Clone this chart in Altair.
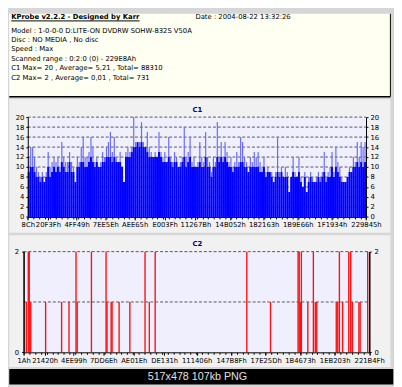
import json
import altair as alt
import pandas as pd

# ---------------- data ----------------
title_text = "KProbe v2.2.2 - Designed by Karr"
date_text = "Date : 2004-08-22 13:32:26"
info_lines = [
    "Model : 1-0-0-0 D:LITE-ON DVDRW SOHW-832S  V50A",
    "Disc : NO MEDIA , No disc",
    "Speed : Max",
    "Scanned range : 0:2:0 (0) - 229E8Ah",
    "C1 Max= 20 , Average= 5,21 , Total= 88310",
    "C2 Max= 2 , Average= 0,01 , Total= 731",
]
c1_title = "C1"
c2_title = "C2"
footer_text = "517x478 107kb PNG"

c1_xlabels = ["8Ch", "20F3Fh", "4FF49h", "7EE5Eh", "AEE65h", "E003Fh",
              "11267Bh", "14B052h", "182163h", "1B9E66h", "1F1934h", "229845h"]
c1_yticks = [0, 2, 4, 6, 8, 10, 12, 14, 16, 18, 20]
# per-sample maximum (light spikes)
c1_peak = [
    12, 14, 14, 12, 10, 9, 8, 9, 7, 9,
    13, 10, 11, 12, 11, 12, 10, 15, 12, 11,
    11, 13, 11, 10, 7, 12, 11, 14, 16, 12,
    12, 13, 16, 14, 11, 12, 10, 11, 13, 12,
    14, 15, 17, 13, 16, 12, 11, 13, 10, 7,
    13, 14, 13, 14, 20, 15, 14, 15, 19, 15,
    14, 17, 14, 13, 12, 13, 12, 17, 13, 12,
    13, 11, 16, 12, 11, 13, 12, 10, 11, 12,
    18, 12, 13, 16, 11, 12, 10, 11,
    15, 12, 11, 17, 12, 11, 9, 12, 11, 19,
    12, 15, 12, 15, 13, 11, 12, 10, 11, 13,
    11, 16, 15, 12, 11, 9, 12, 11, 13, 12,
    13, 11, 10, 12, 9, 10, 9, 9, 7, 9,
    16, 9, 10, 8, 10, 9, 5, 8, 12, 9,
    8, 12, 8, 6, 9, 5, 8, 9, 8, 7,
    8, 9, 8, 9, 13, 8, 9, 10, 13, 9,
    14, 11, 10, 8, 7, 7, 8, 10, 9, 12,
    11, 15, 12, 15, 14, 15,
]
# per-sample solid level
c1_base = [
    9, 10, 10, 9, 8, 8, 7, 8, 7, 8,
    10, 8, 9, 10, 9, 10, 9, 11, 10, 9,
    9, 11, 9, 9, 7, 10, 10, 11, 11, 10,
    10, 11, 12, 11, 10, 11, 10, 10, 11, 11,
    12, 12, 12, 11, 12, 11, 11, 11, 10, 7,
    12, 12, 12, 13, 14, 14, 15, 14, 15, 14,
    14, 13, 12, 12, 12, 12, 12, 13, 12, 11,
    11, 11, 12, 11, 10, 11, 11, 10, 10, 11,
    12, 10, 11, 12, 10, 10, 10, 10,
    11, 10, 10, 12, 10, 10, 8, 10, 10, 12,
    11, 12, 11, 12, 11, 10, 10, 9, 10, 10,
    10, 11, 11, 10, 10, 9, 10, 10, 10, 10,
    10, 9, 9, 10, 8, 9, 9, 8, 7, 8,
    9, 8, 9, 8, 8, 8, 5, 8, 9, 8,
    8, 9, 7, 6, 8, 5, 7, 8, 7, 7,
    7, 8, 7, 8, 9, 7, 8, 8, 10, 8,
    10, 9, 8, 7, 7, 7, 8, 9, 9, 10,
    10, 11, 10, 11, 10, 11,
]

c2_xlabels = ["1Ah", "21420h", "4EE99h", "7DD6Eh", "AE01Eh", "DE131h",
              "111406h", "147B8Fh", "17E25Dh", "1B4673h", "1EB203h", "221B4Fh"]
c2_yticks = [0, 1, 2]
c2_lba = [17700, 30300, 36600, 46000, 142500, 245800, 293700, 339100, 346700,
          438700, 533300, 539600, 566000, 572300, 617700, 687100, 785400,
          813100, 850900, 1443400, 1596600, 1775000, 1782500, 1790100,
          1796400, 1838000, 1873900, 1886500, 1896000, 2022000, 2031500,
          2042200, 2063000, 2102700, 2115300, 2126000, 2168300, 2176500,
          2225000]
c2_val = [1, 2, 2, 1, 1, 1, 1, 2, 1,
          2, 2, 1, 1, 1, 1, 1, 2,
          1, 2, 2, 1, 2, 2, 1,
          2, 1, 2, 1, 1, 1, 1,
          2, 1, 2, 2, 1, 1, 1,
          2]

# ---------------- styles ----------------
FONT = "DejaVu Sans"
PAGE_BG = "#D6D6D6"
HEADER_BG = "#FFFFF2"
PANEL_BG = "#F1F1F1"
PLOT_BG = "#EFEFFD"
GRID = "#555555"
BLUE = "#0000FF"
LIGHT_BLUE = "#6A6AFF"
RED = "#FF1010"
NAVY = "#000080"
MINOR_DIV = 60


def hexval(s):
    return int(s[:-1], 16)


one = pd.DataFrame({"a": [0]})

axis_common = dict(labelFont=FONT, labelFontSize=7, labelColor="black",
                   domainColor="black", tickColor="black", title=None,
                   zindex=1, grid=False, labelOverlap=False)


def minor_axis(lo, hi):
    vals = [lo + (hi - lo) * i / MINOR_DIV for i in range(MINOR_DIV + 1)]
    return alt.Axis(orient="bottom", values=vals, labels=False, domain=False,
                    tickSize=2, tickColor="black", title=None, grid=False, zindex=1)


# ---------------- header ----------------
hdr_rect = alt.Chart(one).mark_rect(fill=HEADER_BG).encode(
    x=alt.value(-14.7), x2=alt.value(376.3), y=alt.value(0), y2=alt.value(85))
hdr_right = alt.Chart(one).mark_rule(color="black", strokeWidth=1).encode(
    x=alt.value(376.3), y=alt.value(0), y2=alt.value(85))
hdr_bottom = alt.Chart(one).mark_rule(color="black", strokeWidth=1.5).encode(
    x=alt.value(-14.7), x2=alt.value(376.3), y=alt.value(85))
hdr_title = alt.Chart(one).mark_text(
    text=title_text, font=FONT, fontSize=7, fontWeight="bold", align="left",
    baseline="alphabetic", color="black").encode(x=alt.value(-12.7), y=alt.value(5.8))
hdr_underline = alt.Chart(one).mark_rule(color="black", strokeWidth=1).encode(
    x=alt.value(-12.7), x2=alt.value(119), y=alt.value(7.3))
hdr_date = alt.Chart(one).mark_text(
    text=date_text, font=FONT, fontSize=7, align="left", baseline="alphabetic",
    color="black").encode(x=alt.value(176.3), y=alt.value(5.8))
hdr_lines = alt.Chart(one).mark_text(
    font=FONT, fontSize=7, align="left", baseline="alphabetic", color="black",
    lineHeight=9.67).encode(x=alt.value(-12.7), y=alt.value(19.2),
                            text=alt.value(info_lines))
header = alt.layer(hdr_rect, hdr_right, hdr_bottom, hdr_title, hdr_underline,
                   hdr_date, hdr_lines).properties(width=351.3, height=70.3)

# ---------------- C1 ----------------
n1 = len(c1_peak)
lo1, hi1 = hexval(c1_xlabels[0]), hexval(c1_xlabels[-1])
step1 = (hi1 - lo1) / n1
df1 = pd.DataFrame({"k": range(n1), "peak": c1_peak, "base": c1_base})
df1["x0"] = lo1 + df1["k"] * step1
df1["x1"] = df1["x0"] + step1
df1["p0"] = df1["x0"] + 0.2 * step1
df1["p1"] = df1["x0"] + 0.8 * step1
df1["zero"] = 0

c1_ticks = [hexval(s) for s in c1_xlabels]
lab1 = f"{json.dumps(c1_xlabels)}[indexof({json.dumps(c1_ticks)}, datum.value)]"
xs1 = alt.Scale(domain=[lo1, hi1], range=[4.3, 351.3], nice=False, zero=False)
ys1 = alt.Scale(domain=[0, 20], nice=False)

x_ax1 = alt.Axis(orient="bottom", values=c1_ticks, labelExpr=lab1, tickSize=3,
                 labelPadding=1, labelFlush=False, **axis_common)
yl_ax1 = alt.Axis(orient="left", values=c1_yticks, tickSize=2, labelPadding=2,
                  offset=-4.3, **axis_common)
yr_ax1 = alt.Axis(orient="right", values=c1_yticks, tickSize=2, labelPadding=2,
                  **axis_common)

panel1 = alt.Chart(one).mark_rect(fill=PANEL_BG).encode(
    x=alt.value(-14.7), x2=alt.value(376.3), y=alt.value(-18.3), y2=alt.value(118.7))
bg1 = alt.Chart(pd.DataFrame({"x0": [lo1], "x1": [hi1], "y0": [0], "y1": [20]})).mark_rect(
    fill=PLOT_BG).encode(x=alt.X("x0:Q", scale=xs1, axis=x_ax1), x2="x1:Q",
                         y=alt.Y("y0:Q", scale=ys1, axis=yl_ax1), y2="y1:Q")
grid1 = alt.Chart(pd.DataFrame({"gy": c1_yticks[1:], "gx0": lo1, "gx1": hi1})).mark_rule(
    color=GRID, strokeDash=[3, 2], strokeWidth=1).encode(
    x=alt.X("gx0:Q", scale=xs1, axis=minor_axis(lo1, hi1)), x2="gx1:Q",
    y=alt.Y("gy:Q", scale=ys1, axis=yr_ax1))
peak1 = alt.Chart(df1).mark_rect(color=LIGHT_BLUE).encode(
    x=alt.X("p0:Q", scale=xs1, axis=None), x2="p1:Q",
    y=alt.Y("peak:Q", scale=ys1, axis=None), y2="zero:Q")
base1 = alt.Chart(df1).mark_rect(color=BLUE).encode(
    x=alt.X("x0:Q", scale=xs1, axis=None), x2="x1:Q",
    y=alt.Y("base:Q", scale=ys1, axis=None), y2="zero:Q")
title1 = alt.Chart(one).mark_text(
    text=c1_title, font=FONT, fontSize=7, fontWeight="bold", color=NAVY,
    baseline="middle").encode(x=alt.value(178.3), y=alt.value(-7.3))

c1 = alt.layer(panel1, bg1, grid1, peak1, base1, title1).resolve_axis(
    x="independent", y="independent").properties(width=351.3, height=102.4)

# ---------------- C2 ----------------
lo2, hi2 = hexval(c2_xlabels[0]), hexval(c2_xlabels[-1])
c2_ticks = [hexval(s) for s in c2_xlabels]
lab2 = f"{json.dumps(c2_xlabels)}[indexof({json.dumps(c2_ticks)}, datum.value)]"
xs2 = alt.Scale(domain=[lo2, hi2], nice=False, zero=False)
ys2 = alt.Scale(domain=[0, 2], nice=False)
df2 = pd.DataFrame({"lba": c2_lba, "v": c2_val, "zero": 0})

x_ax2 = alt.Axis(orient="bottom", values=c2_ticks, labelExpr=lab2, tickSize=3,
                 labelPadding=1, labelFlush=False, **axis_common)
yl_ax2 = alt.Axis(orient="left", values=c2_yticks, format="d", tickSize=2,
                  labelPadding=3, domainWidth=1.6, **axis_common)
yr_ax2 = alt.Axis(orient="right", values=c2_yticks, format="d", tickSize=2,
                  labelPadding=3, domainWidth=1.6, **axis_common)

panel2 = alt.Chart(one).mark_rect(fill=PANEL_BG).encode(
    x=alt.value(-14.7), x2=alt.value(376.3), y=alt.value(-16.7), y2=alt.value(118.3))
bg2 = alt.Chart(pd.DataFrame({"x0": [lo2], "x1": [hi2], "y0": [0], "y1": [2]})).mark_rect(
    fill=PLOT_BG).encode(x=alt.X("x0:Q", scale=xs2, axis=x_ax2), x2="x1:Q",
                         y=alt.Y("y0:Q", scale=ys2, axis=yl_ax2), y2="y1:Q")
grid2 = alt.Chart(pd.DataFrame({"gy": c2_yticks[1:], "gx0": lo2, "gx1": hi2})).mark_rule(
    color=GRID, strokeDash=[3, 2], strokeWidth=1).encode(
    x=alt.X("gx0:Q", scale=xs2, axis=minor_axis(lo2, hi2)), x2="gx1:Q",
    y=alt.Y("gy:Q", scale=ys2, axis=yr_ax2))
bars2 = alt.Chart(df2).mark_rule(color=RED, strokeWidth=1.4).encode(
    x=alt.X("lba:Q", scale=xs2, axis=None),
    y=alt.Y("v:Q", scale=ys2, axis=None), y2="zero:Q")
title2 = alt.Chart(one).mark_text(
    text=c2_title, font=FONT, fontSize=7, fontWeight="bold", color=NAVY,
    baseline="middle").encode(x=alt.value(178.3), y=alt.value(-7.7))
footer = alt.Chart(one).mark_rect(fill="black").encode(
    x=alt.value(-14.7), x2=alt.value(379.3), y=alt.value(120.3), y2=alt.value(136.3))
footer_txt = alt.Chart(one).mark_text(
    text=footer_text, font="Liberation Sans", fontSize=11, color="#E0E0E0",
    align="left", baseline="alphabetic").encode(x=alt.value(127.3), y=alt.value(131.3))

c2 = alt.layer(panel2, bg2, grid2, bars2, title2, footer, footer_txt).resolve_axis(
    x="independent", y="independent").properties(width=354.6, height=103.3)

chart = alt.vconcat(header, c1, c2, spacing=35, bounds="flush").properties(
    padding=0, background=PAGE_BG).configure_view(strokeWidth=0)

chart.save("out.html", embed_options={"renderer": "svg", "actions": False})
